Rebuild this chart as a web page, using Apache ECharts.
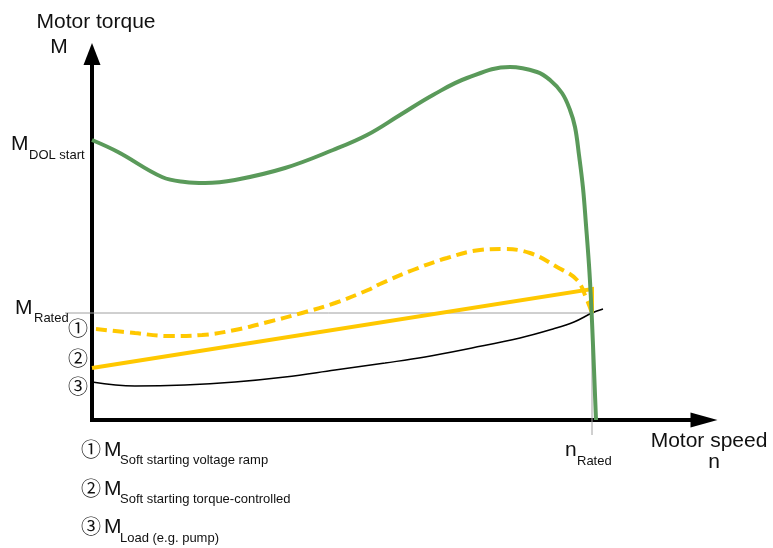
<!DOCTYPE html>
<html>
<head>
<meta charset="utf-8">
<script src="https://cdn.jsdelivr.net/npm/echarts@6/dist/echarts.min.js"></script>
<style>
html,body{margin:0;padding:0;background:#fff;}
#chart{width:773px;height:548px;}
</style>
</head>
<body>
<div id="chart"></div>
<script>
// Values (speed, torque) in drawing units
const dolTorque = [[0,280],[26,268],[70,243],[93,238],[113,237],[143,240],[193,252],[241,270],[275,285],[308,305],[341,325],[375,342],[418,353],[445,348],[458,340],[470,327],[478,310],[483,293],[487,265],[491,232],[494,195],[497,155],[499,120],[501,75],[504,0]];
const voltageRamp = [[4,91],[43,87],[76,84],[110,85],[143,90],[176,98],[210,107],[243,117],[276,130],[288,136],[321,150],[355,162],[388,170],[411,171],[438,167],[465,153],[485,140],[495,120],[500,107]];
const torqueControlled = [[0,52],[500,131],[500,107]];
const loadTorque = [[0,38],[43,34],[93,35],[143,38],[193,43],[243,50],[293,57],[333,63],[380,72],[428,82],[461,91],[482,98],[500,107],[511,111]];
const ratedTorqueLine = [[-27,107],[500,107]];
const ratedSpeedLine = [[500,107],[500,-15]];

const FONT = 'Liberation Sans, Arial, Noto Sans CJK SC, sans-serif';
const chart = echarts.init(document.getElementById('chart'), null, {renderer:'canvas'});

function txt(text, x, y, size, align) {
  return {type:'text', x:x, y:y, z:100, style:{text:text, fontSize:size, fontFamily:FONT, fill:'#111', align:align||'left', verticalAlign:'middle'}};
}
const hidden = {axisLine:{show:false}, axisTick:{show:false}, axisLabel:{show:false}, splitLine:{show:false}};

chart.setOption({
  animation:false,
  backgroundColor:'#fff',
  grid:[
    {left:92, right:69, top:54, bottom:128},
    {left:65, right:69, top:54, bottom:113}
  ],
  xAxis:[
    {type:'value', gridIndex:0, min:0, max:612,
      axisLine:{show:true, symbol:['none','triangle'], symbolSize:[15,27], lineStyle:{color:'#000', width:4, cap:'square'}},
      axisTick:{show:false}, axisLabel:{show:false}, splitLine:{show:false}},
    Object.assign({type:'value', gridIndex:1, min:-27, max:612}, hidden)
  ],
  yAxis:[
    {type:'value', gridIndex:0, min:0, max:366,
      axisLine:{show:true, symbol:['none','triangle'], symbolSize:[17,22], lineStyle:{color:'#000', width:4, cap:'square'}},
      axisTick:{show:false}, axisLabel:{show:false}, splitLine:{show:false}},
    Object.assign({type:'value', gridIndex:1, min:-15, max:366}, hidden)
  ],
  series:[
    {type:'line', xAxisIndex:1, yAxisIndex:1, data:ratedTorqueLine, showSymbol:false, z:1, lineStyle:{color:'#a0a0a0', width:1}},
    {type:'line', xAxisIndex:1, yAxisIndex:1, data:ratedSpeedLine, showSymbol:false, z:1, lineStyle:{color:'#a0a0a0', width:1}},
    {type:'line', data:loadTorque, smooth:0.4, showSymbol:false, z:3, lineStyle:{color:'#000', width:1.5}},
    {type:'line', data:torqueControlled, showSymbol:false, z:4, lineStyle:{color:'#ffc800', width:4, join:'miter'}},
    {type:'line', data:voltageRamp, smooth:0.4, showSymbol:false, z:4, lineStyle:{color:'#ffc800', width:4, type:[11,6]}},
    {type:'line', data:dolTorque, smooth:0.4, showSymbol:false, z:5, lineStyle:{color:'#5a9a5a', width:4}}
  ],
  graphic:[
    txt('Motor torque', 96, 22, 21, 'center'),
    txt('M', 59, 47, 21, 'center'),
    txt('M', 11, 144, 21),
    txt('DOL start', 29, 155, 13),
    txt('M', 15, 308, 21),
    txt('Rated', 34, 318, 13),
    txt('\u2460', 78, 330, 20, 'center'),
    txt('\u2461', 78, 360, 20, 'center'),
    txt('\u2462', 78, 388, 20, 'center'),
    txt('\u2460', 91, 451, 20, 'center'),
    txt('M', 104, 450, 21),
    txt('Soft starting voltage ramp', 120, 460, 13),
    txt('\u2461', 91, 490, 20, 'center'),
    txt('M', 104, 489, 21),
    txt('Soft starting torque-controlled', 120, 499, 13),
    txt('\u2462', 91, 528, 20, 'center'),
    txt('M', 104, 527, 21),
    txt('Load (e.g. pump)', 120, 538, 13),
    txt('Motor speed', 709, 441, 21, 'center'),
    txt('n', 714, 462, 21, 'center'),
    txt('n', 565, 450, 21),
    txt('Rated', 577, 461, 13)
  ]
});
</script>
</body>
</html>
